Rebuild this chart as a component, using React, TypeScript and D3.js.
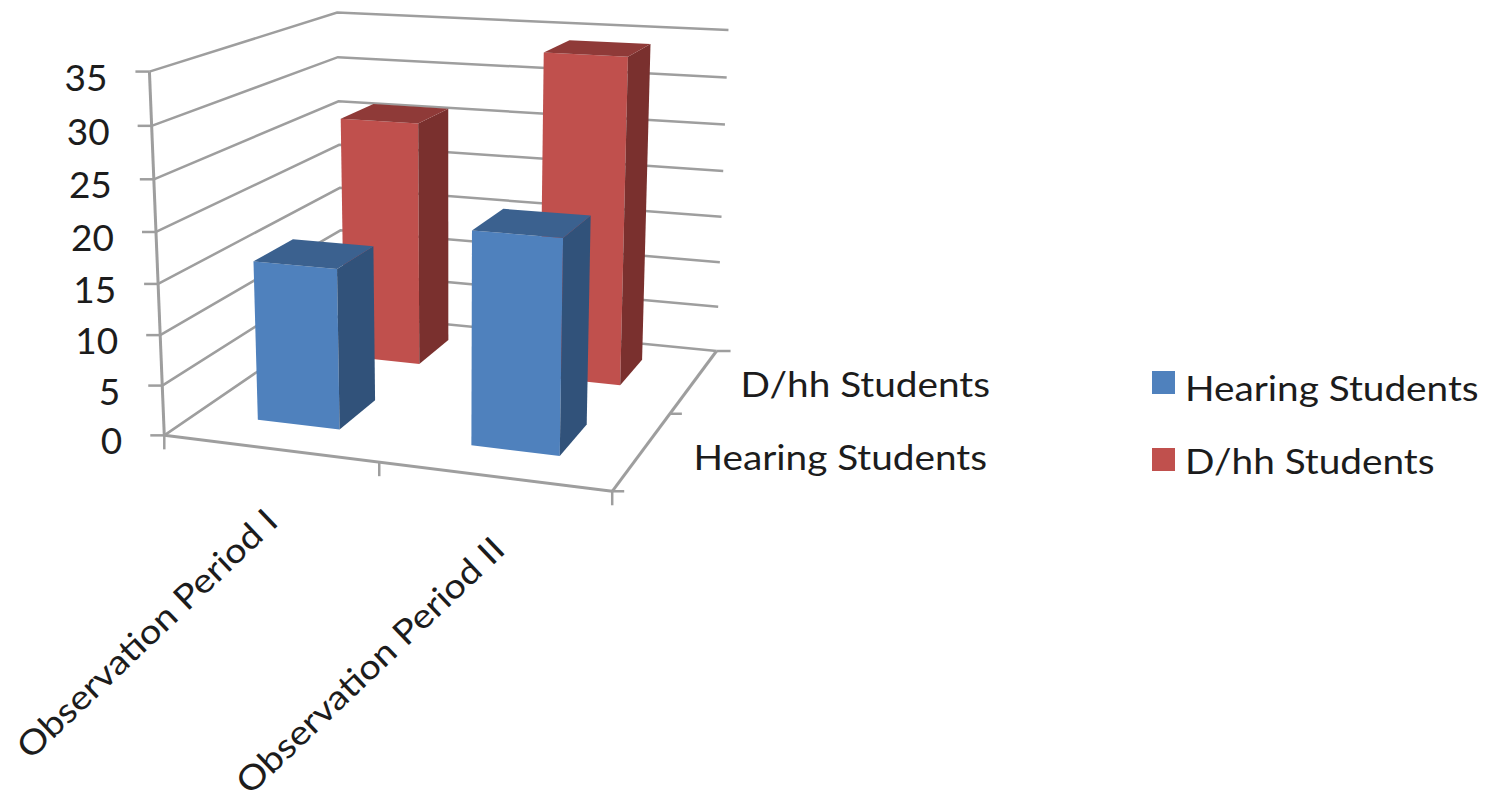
import React from "react";
import * as d3 from "d3";

// Chart data
const periods = ["Observation Period I", "Observation Period II"];
const groups = ["Hearing Students", "D/hh Students"];
const hearingValues = [16, 20.8];
const dhhValues = [26, 34];
const valueTicks = [0, 5, 10, 15, 20, 25, 30, 35];

const palette: Record<string, { front: string; side: string; top: string }> = {
  "Hearing Students": { front: "#4f81bd", side: "#31527a", top: "#3b618f" },
  "D/hh Students": { front: "#c0504d", side: "#7a302e", top: "#8f3a38" },
};

type P3 = [number, number, number];
type P2 = [number, number];

// Camera calibration: unit-cube coordinates of the plot box and where they land on the page.
const anchors: [P3, P2][] = [
  [[0, 0, 0], [164, 433]],
  [[1, 0, 0], [612, 493]],
  [[1, 1, 0], [715, 349]],
  [[0, 1, 0], [343, 317]],
  [[0, 0, 1], [150, 73]],
  [[0, 1, 1], [337, 12]],
  [[1, 1, 1], [729, 31]],
  [[0.5, 0, 0], [378, 463]],
  [[1, 0.5, 0], [672, 413]],
  [[0, 0, 4 / 7], [156, 231]],
  [[1, 1, 4 / 7], [723, 171]],
  [[0, 1, 6 / 7], [337, 56]],
];

// Least-squares fit of a projective camera: x = (a·p + d) / (g·p + 1), y likewise.
function fitCamera(pts: [P3, P2][]) {
  const n = 11;
  const A = Array.from({ length: n }, () => new Array(n + 1).fill(0));
  const add = (row: number[], rhs: number) => {
    for (let i = 0; i < n; i++) {
      for (let j = 0; j < n; j++) A[i][j] += row[i] * row[j];
      A[i][n] += row[i] * rhs;
    }
  };
  for (const [[u, v, w], [x, y]] of pts) {
    add([u, v, w, 1, 0, 0, 0, 0, -u * x, -v * x, -w * x], x);
    add([0, 0, 0, 0, u, v, w, 1, -u * y, -v * y, -w * y], y);
  }
  for (let c = 0; c < n; c++) {
    let pivot = c;
    for (let r = c + 1; r < n; r++) if (Math.abs(A[r][c]) > Math.abs(A[pivot][c])) pivot = r;
    [A[c], A[pivot]] = [A[pivot], A[c]];
    for (let r = 0; r < n; r++) {
      if (r === c) continue;
      const f = A[r][c] / A[c][c];
      for (let k = c; k <= n; k++) A[r][k] -= f * A[c][k];
    }
  }
  const m = A.map((row, i) => row[n] / row[i]);
  return ([u, v, w]: P3): P2 => {
    const d = m[8] * u + m[9] * v + m[10] * w + 1;
    return [
      (m[0] * u + m[1] * v + m[2] * w + m[3]) / d,
      (m[4] * u + m[5] * v + m[6] * w + m[7]) / d,
    ];
  };
}

const project = fitCamera(anchors);
const zScale = d3.scaleLinear().domain([0, 35]).range([0, 1]);
const uScale = d3.scaleBand<string>().domain(periods).range([-0.004, 0.996]).paddingInner(0.608).paddingOuter(0.304);
const vScale = d3.scaleBand<string>().domain(groups).range([0.015, 1.015]).paddingInner(0.58).paddingOuter(0.29);
const outline = d3.line<P3>().x((p) => project(p)[0]).y((p) => project(p)[1]);
const poly = (pts: P3[]) => outline(pts) + "Z";

const GRID = "#9e9e9e";
const FONT = "Lato, 'Open Sans', sans-serif";
const INK = "#1c1c1c";
const STRETCH = "scale(1.14,1)";

function Bar({ period, group, value }: { period: string; group: string; value: number }) {
  const u0 = uScale(period)!;
  const u1 = u0 + uScale.bandwidth();
  const v0 = vScale(group)!;
  const v1 = v0 + vScale.bandwidth();
  const w = zScale(value);
  const c = palette[group];
  return (
    <g>
      <path d={poly([[u0, v0, 0], [u1, v0, 0], [u1, v0, w], [u0, v0, w]])} fill={c.front} />
      <path d={poly([[u1, v0, 0], [u1, v1, 0], [u1, v1, w], [u1, v0, w]])} fill={c.side} />
      <path d={poly([[u0, v0, w], [u1, v0, w], [u1, v1, w], [u0, v1, w]])} fill={c.top} />
    </g>
  );
}

export default function App() {
  const seg = (a: P3, b: P3) => outline([a, b])!;
  const corner = project([1, 0, 0]);
  const origin = project([0, 0, 0]);
  const backRight = project([1, 1, 0]);
  const midRight = project([1, 0.5, 0]);
  const mid = project([0.5, 0, 0]);
  return (
    <svg
      width={1490}
      height={802}
      style={{ position: "absolute", left: 0, top: 0, background: "#fff" }}
    >
      {/* walls */}
      <g fill="none" stroke={GRID} strokeWidth={2.5}>
        {valueTicks.map((t) => {
          const w = zScale(t);
          return <path key={t} d={outline([[0, 0, w], [0, 1, w], [1, 1, w]])!} />;
        })}
        <path d={seg([0, 0, 0], [0, 0, 1])} strokeWidth={3} />
        <path d={seg([0, 0, 0], [1, 0, 0])} strokeWidth={3} />
        <path d={seg([1, 0, 0], [1, 1, 0])} strokeWidth={3} />
        {valueTicks.map((t) => {
          const [x, y] = project([0, 0, zScale(t)]);
          return <line key={t} x1={x - 14} x2={x} y1={y} y2={y} />;
        })}
        <line x1={origin[0]} x2={origin[0]} y1={origin[1]} y2={origin[1] + 14} />
        <line x1={mid[0]} x2={mid[0]} y1={mid[1]} y2={mid[1] + 14} />
        <line x1={corner[0]} x2={corner[0]} y1={corner[1]} y2={corner[1] + 14} />
        <line x1={corner[0]} x2={corner[0] + 12} y1={corner[1]} y2={corner[1]} />
        <line x1={midRight[0]} x2={midRight[0] + 12} y1={midRight[1]} y2={midRight[1]} />
        <line x1={backRight[0]} x2={backRight[0] + 14} y1={backRight[1]} y2={backRight[1]} />
      </g>

      {/* columns, back row first */}
      {periods.map((p, i) => (
        <Bar key={p} period={p} group={groups[1]} value={dhhValues[i]} />
      ))}
      {periods.map((p, i) => (
        <Bar key={p} period={p} group={groups[0]} value={hearingValues[i]} />
      ))}

      {/* value axis labels */}
      <g fontFamily={FONT} fontSize={37} fill={INK} textAnchor="end">
        {valueTicks.map((t) => {
          const [x, y] = project([0, 0, zScale(t)]);
          return (
            <text key={t} x={x - 42} y={y + 19}>
              {t}
            </text>
          );
        })}
      </g>

      {/* category labels */}
      <g fontFamily={FONT} fontSize={34} fill={INK} textAnchor="end">
        {periods.map((p, i) => {
          const [x, y] = i === 0 ? [280, 524] : [507, 552];
          return (
            <text key={p} transform={`translate(${x},${y}) rotate(-43.5) scale(1.12,1)`}>
              {p}
            </text>
          );
        })}
        <text transform={`translate(990,397) ${STRETCH}`}>{groups[1]}</text>
        <text transform={`translate(987,470) ${STRETCH}`}>{groups[0]}</text>
      </g>

      {/* legend */}
      <g fontFamily={FONT} fontSize={34} fill={INK}>
        {groups.map((g, i) => (
          <g key={g}>
            <rect x={1152} y={371 + i * 77} width={23} height={23} fill={palette[g].front} />
            <text transform={`translate(1185,${401 + i * 73}) ${STRETCH}`}>{g}</text>
          </g>
        ))}
      </g>
    </svg>
  );
}
